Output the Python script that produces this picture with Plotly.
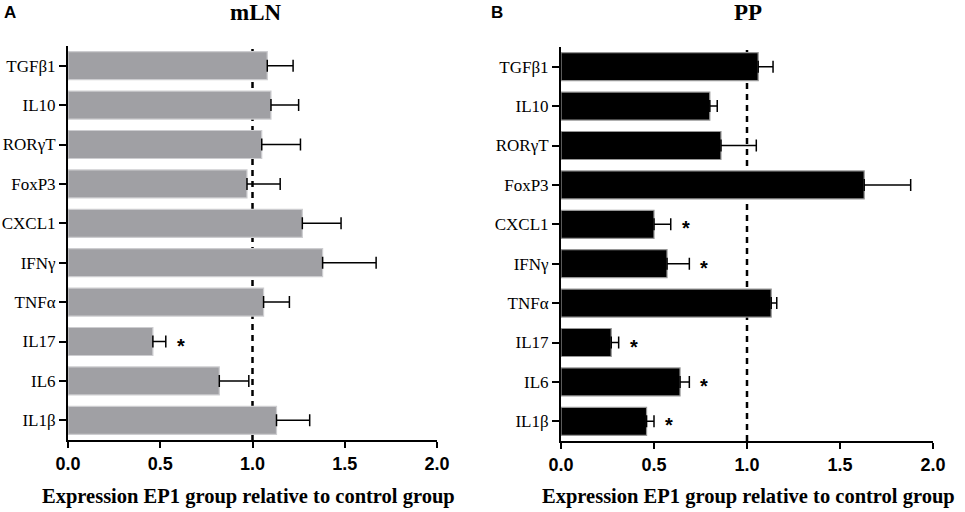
import plotly.graph_objects as go

# genes, top to bottom as drawn
genes = ["TGFβ1", "IL10", "RORγT", "FoxP3", "CXCL1", "IFNγ", "TNFα", "IL17", "IL6", "IL1β"]

# mLN panel (A)
mln_mean = [1.08, 1.10, 1.05, 0.97, 1.27, 1.38, 1.06, 0.46, 0.82, 1.13]
mln_err = [0.14, 0.15, 0.21, 0.18, 0.21, 0.29, 0.14, 0.07, 0.16, 0.18]
mln_sig = ["IL17"]

# PP panel (B)
pp_mean = [1.06, 0.80, 0.86, 1.63, 0.50, 0.57, 1.13, 0.27, 0.64, 0.46]
pp_err = [0.08, 0.04, 0.19, 0.25, 0.09, 0.12, 0.03, 0.04, 0.05, 0.04]
pp_sig = ["CXCL1", "IFNγ", "IL17", "IL6", "IL1β"]

xticks = [0.0, 0.5, 1.0, 1.5, 2.0]
xtick_text = ["0.0", "0.5", "1.0", "1.5", "2.0"]

W, H = 965, 512
def px(x):
    return x / W
def py(y):
    return 1 - y / H

serif = "Liberation Serif"
sans = "Liberation Sans"

fig = go.Figure()

panels = [
    dict(mean=mln_mean, err=mln_err, sig=mln_sig, xa="x", ya="y",
         fill="rgb(160,160,164)", edge="rgb(205,205,208)"),
    dict(mean=pp_mean, err=pp_err, sig=pp_sig, xa="x2", ya="y2",
         fill="black", edge="rgb(150,150,150)"),
]

for p in panels:
    fig.add_trace(go.Bar(
        x=p["mean"], y=genes, orientation="h",
        xaxis=p["xa"], yaxis=p["ya"],
        width=0.71,
        marker=dict(color=p["fill"], line=dict(color=p["edge"], width=1.2)),
        error_x=dict(type="data", symmetric=False, array=p["err"],
                     arrayminus=[0] * len(p["err"]),
                     color="black", thickness=1.5, width=6),
        showlegend=False,
    ))
    # significance stars just past the error bar
    for g, m, e in zip(genes, p["mean"], p["err"]):
        if g in p["sig"]:
            fig.add_annotation(x=m + e + 0.08, y=g, xref=p["xa"], yref=p["ya"],
                               text="<b>*</b>", showarrow=False, yshift=-4,
                               font=dict(family=sans, size=20, color="black"))
    # dashed reference line at 1.0, behind the bars
    fig.add_shape(type="line", x0=1, x1=1, y0=0, y1=1, layer="below",
                  xref=p["xa"], yref=p["ya"] + " domain",
                  line=dict(color="black", width=2.5, dash="6px,5px"))

xaxis_style = dict(range=[0, 2.0], tickvals=xticks,
                   ticktext=["<b>" + t + "</b>" for t in xtick_text],
                   showline=True, linecolor="black", linewidth=2,
                   ticks="outside", ticklen=6, tickwidth=2, tickcolor="black",
                   showgrid=False, zeroline=False, automargin=False,
                   tickfont=dict(family=sans, size=18, color="black"))
yaxis_style = dict(categoryorder="array", categoryarray=genes,
                   range=[9.5, -0.5],
                   showline=True, linecolor="black", linewidth=2,
                   ticks="outside", ticklen=7, tickwidth=2, tickcolor="black",
                   showgrid=False, zeroline=False, automargin=False,
                   tickfont=dict(family=serif, size=17, color="black"))

fig.update_layout(
    width=W, height=H,
    margin=dict(l=0, r=0, t=0, b=0),
    paper_bgcolor="white", plot_bgcolor="white",
    xaxis=dict(domain=[px(68), px(437)], anchor="y", **xaxis_style),
    yaxis=dict(domain=[py(440), py(46)], anchor="x", **yaxis_style),
    xaxis2=dict(domain=[px(561), px(933)], anchor="y2", **xaxis_style),
    yaxis2=dict(domain=[py(441), py(47)], anchor="x2", **yaxis_style),
)

# panel letters and titles
for txt, xp, fam, size in [("A", 10, sans, 17), ("B", 497, sans, 17),
                           ("mLN", 256, serif, 23), ("PP", 748, serif, 23)]:
    fig.add_annotation(x=px(xp), y=py(12), xref="paper", yref="paper",
                       text="<b>" + txt + "</b>",
                       showarrow=False, xanchor="center", yanchor="middle",
                       font=dict(family=fam, size=size, color="black"))

# x-axis titles
for xp in [248, 748]:
    fig.add_annotation(x=px(xp), y=py(496), xref="paper", yref="paper",
                       text="<b>Expression EP1 group relative to control group</b>",
                       showarrow=False, xanchor="center", yanchor="middle",
                       font=dict(family=serif, size=20.5, color="black"))

# drop the default 8px page margin so the figure sits at the window corner
fig.write_html("out.html", config={"displayModeBar": False},
               post_script="document.body.style.margin='0px';")
